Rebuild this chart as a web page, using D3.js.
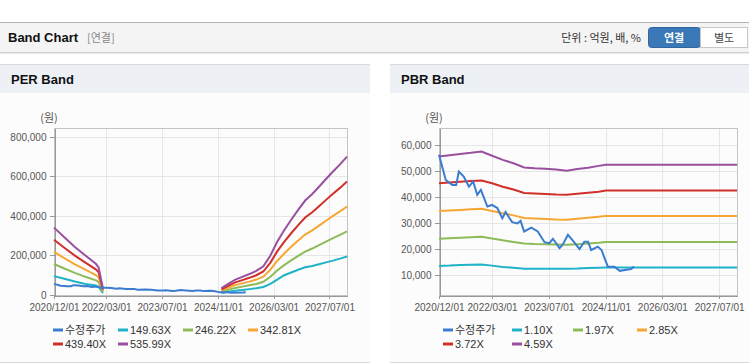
<!DOCTYPE html>
<meta charset="utf-8">
<style>
    body {
        margin: 0;
        background-color: #fff;
    }

    svg text {
        font-family: "Liberation Sans", Arial, "Noto Sans CJK KR", sans-serif;
    }

    .kr {
        font-family: "Noto Sans CJK KR", sans-serif !important;
    }

    .axis text {
        font-size: 10px;
        fill: #555;
    }

    .axis path,
    .axis line {
        stroke: #999;
        shape-rendering: crispEdges;
    }

    .grid line {
        stroke: #e6e6e6;
        shape-rendering: crispEdges;
    }

    .grid path {
        display: none;
    }

    .line {
        fill: none;
        stroke-width: 2px;
    }
</style>

<body>
    <svg width="749" height="364"></svg>
</body>
<script src="https://d3js.org/d3.v7.min.js"></script>
<script>
    // ---- data ----
    var xTicks = ["2020/12/01", "2022/03/01", "2023/07/01", "2024/11/01", "2026/03/01", "2027/07/01"];

    var priceDates = ["2020-12-01", "2021-01-28", "2021-03-25", "2021-04-28", "2021-05-20", "2021-07-01",
        "2021-08-15", "2021-09-20", "2021-10-25", "2021-11-25", "2022-01-20", "2022-03-01", "2022-04-15",
        "2022-05-28", "2022-06-25", "2022-08-20", "2022-10-05", "2022-11-01", "2022-12-01", "2023-02-01",
        "2023-03-28", "2023-05-25", "2023-07-05", "2023-08-05", "2023-10-01", "2023-10-28", "2023-12-12",
        "2024-01-25", "2024-03-20", "2024-05-01", "2024-06-01", "2024-06-28", "2024-08-25", "2024-09-25",
        "2024-11-18", "2025-01-15", "2025-02-28", "2025-06-05", "2025-07-01"];
    var priceValues = [56300, 46600, 44700, 44700, 49800, 47900,
        44000, 46000, 40900, 42800, 36400, 37000, 35800,
        31900, 34300, 30400, 29900, 30900, 26800, 28300,
        26800, 22700, 22300, 24000, 20400, 21700, 25500,
        23200, 20100, 22900, 22900, 19700, 21000, 19700,
        13300, 13300, 11700, 12400, 13300];

    // PER band (null = no band drawn)
    var perDates = ["2020-12-01", "2021-03-01", "2021-06-01", "2021-09-01", "2021-12-01", "2021-12-25", "2022-02-01",
        "2023-06-01",
        "2024-12-01", "2025-02-01", "2025-04-01", "2025-06-01", "2025-08-01", "2025-10-01", "2025-12-01",
        "2026-02-01", "2026-04-01", "2026-06-01", "2026-08-01", "2026-10-01", "2026-12-01", "2027-02-01",
        "2027-04-01", "2027-06-01", "2027-08-01", "2027-10-01", "2027-12-01"];
    var per14963 = [95500, 81800, 68000, 56000, 48000, 42000, 9200, null,
        9800, 16200, 21800, 25800, 29700, 34200, 40600, 56000, 78000, 100000, 114000, 128000, 140000,
        147000, 156000, 165000, 174000, 184000, 195000];
    var per24622 = [156900, 134300, 111800, 92000, 74000, 66000, 15200, null,
        16100, 26700, 35900, 42300, 48800, 56100, 66700, 92000, 123700, 150900, 175300, 198300, 219900,
        235100, 252100, 270000, 287500, 304100, 322000];
    var per34281 = [218200, 186900, 155500, 128000, 101100, 89600, 21100, null,
        22400, 37100, 49900, 58900, 67800, 78100, 92800, 128000, 172200, 209900, 243800, 275800, 305900,
        327000, 350700, 375700, 400000, 423000, 448000];
    var per43940 = [279600, 239400, 199300, 164000, 129600, 114800, 27100, null,
        28700, 47600, 64000, 75400, 86900, 100000, 118900, 164000, 220600, 269000, 312400, 353400, 392000,
        419000, 449400, 481300, 512500, 542000, 574000];
    var per53599 = [341000, 292000, 243000, 200000, 158000, 140000, 33000, null,
        35000, 58000, 78000, 92000, 106000, 122000, 145000, 200000, 269000, 328000, 381000, 431000, 478000,
        511000, 548000, 587000, 625000, 661000, 700000];
    var perYTicks = [0, 200000, 400000, 600000, 800000];

    // PBR band
    var pbrDates = ["2020-12-01", "2021-03-01", "2021-06-01", "2021-09-01", "2021-12-01", "2022-03-01",
        "2022-06-01", "2022-09-01", "2022-12-01", "2023-03-01", "2023-06-01", "2023-09-01", "2023-12-01",
        "2024-03-01", "2024-06-01", "2024-09-01", "2024-11-01", "2027-12-01"];
    var pbr110 = [13600, 13700, 13900, 14000, 14100, 13700, 13200, 12900, 12500, 12500, 12500, 12500, 12500,
        12600, 12800, 12900, 13000, 13000];
    var pbr197 = [24000, 24200, 24400, 24600, 24800, 24100, 23400, 22800, 22200, 22000, 21900, 21800, 21700,
        21900, 22200, 22500, 22800, 22800];
    var pbr285 = [34700, 34900, 35100, 35300, 35500, 34700, 33800, 33000, 32000, 31800, 31600, 31400, 31300,
        31700, 32100, 32500, 32800, 32800];
    var pbr372 = [45300, 45600, 45900, 46200, 46400, 45300, 44000, 42900, 41600, 41400, 41200, 41000, 40900,
        41300, 41700, 42100, 42500, 42500];
    var pbr459 = [55600, 56100, 56600, 57000, 57500, 55900, 54300, 53000, 51400, 51100, 50900, 50600, 50100,
        50800, 51300, 52000, 52400, 52400];
    var pbrYTicks = [10000, 20000, 30000, 40000, 50000, 60000];

    var perNames = ["수정주가", "149.63X", "246.22X", "342.81X", "439.40X", "535.99X"];
    var pbrNames = ["수정주가", "1.10X", "1.97X", "2.85X", "3.72X", "4.59X"];
    var colors = ["#3b7cd0", "#1fb2c8", "#8dbb58", "#f6a733", "#d03029", "#99509f"];

    // ---- drawing ----
    var svg = d3.select("svg");
    var parseDate = d3.timeParse("%Y-%m-%d");
    var parseTick = d3.timeParse("%Y/%m/%d");
    var fmtTick = d3.timeFormat("%Y/%m/%d");

    // top header bar
    svg.append("rect").attr("x", 0).attr("y", 22).attr("width", 749).attr("height", 31).attr("fill", "#f4f4f4");
    svg.append("line").attr("x1", 0).attr("x2", 749).attr("y1", 22.5).attr("y2", 22.5).attr("stroke", "#b4b4b4");
    svg.append("line").attr("x1", 0).attr("x2", 749).attr("y1", 52.5).attr("y2", 52.5).attr("stroke", "#cfcfcf");
    svg.append("line").attr("x1", 0).attr("x2", 749).attr("y1", 53.5).attr("y2", 53.5).attr("stroke", "#ececec");
    svg.append("text").attr("x", 8).attr("y", 42).style("font-size", "13px").style("font-weight", "bold")
        .attr("fill", "#111").text("Band Chart");
    svg.append("text").attr("class", "kr").attr("x", 87).attr("y", 42).style("font-size", "11px")
        .attr("fill", "#888").text("[연결]");
    svg.append("text").attr("class", "kr").attr("x", 641).attr("y", 42).attr("text-anchor", "end")
        .style("font-size", "11px").attr("fill", "#333").text("단위 : 억원, 배, %");
    svg.append("rect").attr("x", 648.5).attr("y", 27.5).attr("width", 52).attr("height", 20).attr("rx", 3)
        .attr("fill", "#3a78b8").attr("stroke", "#2f66a0");
    svg.append("rect").attr("x", 700.5).attr("y", 27.5).attr("width", 47).attr("height", 20)
        .attr("fill", "#fff").attr("stroke", "#c8c8c8");
    svg.append("text").attr("class", "kr").attr("x", 674).attr("y", 42).attr("text-anchor", "middle")
        .style("font-size", "11px").style("font-weight", "bold").attr("fill", "#fff").text("연결");
    svg.append("text").attr("class", "kr").attr("x", 724).attr("y", 42).attr("text-anchor", "middle")
        .style("font-size", "11px").attr("fill", "#444").text("별도");

    function drawPanel(p) {
        // panel frame
        svg.append("rect").attr("x", p.px0).attr("y", 93).attr("width", p.px1 - p.px0).attr("height", 269)
            .attr("fill", "#fcfcfc");
        svg.append("rect").attr("x", p.px0).attr("y", 64).attr("width", p.px1 - p.px0).attr("height", 29)
            .attr("fill", "#edf1f6");
        svg.append("line").attr("x1", p.px0).attr("x2", p.px1).attr("y1", 64.5).attr("y2", 64.5).attr("stroke", "#d9d9d9");
        svg.append("line").attr("x1", p.px0).attr("x2", p.px1).attr("y1", 362.5).attr("y2", 362.5).attr("stroke", "#d9d9d9");
        svg.append("text").attr("x", p.px0 + 11).attr("y", 84).style("font-size", "13px").style("font-weight", "bold")
            .attr("fill", "#111").text(p.title);
        svg.append("text").attr("class", "kr").attr("x", p.unitX).attr("y", 122).attr("text-anchor", "middle")
            .style("font-size", "11px").attr("fill", "#555").text("(원)");

        var x = d3.scaleTime().domain([new Date(2020, 11, 1), new Date(2027, 11, 1)]).range([p.left, p.right]);
        var y = d3.scaleLinear().domain(p.yDomain).range([295, 128]);
        var ticks = xTicks.map(parseTick);

        // grid
        svg.append("g").attr("class", "grid")
            .attr("transform", "translate(" + p.left + ",0)")
            .call(d3.axisLeft(y).tickValues(p.yTicks).tickSize(-(p.right - p.left)).tickFormat(""));
        svg.append("g").attr("class", "grid")
            .attr("transform", "translate(0,128)")
            .call(d3.axisBottom(x).tickValues(ticks).tickSize(167).tickFormat(""));
        svg.append("rect").attr("x", p.left + 0.5).attr("y", 128.5).attr("width", p.right - p.left)
            .attr("height", 167).attr("fill", "none").attr("stroke", "#c4c4c4");

        // axes
        svg.append("g").attr("class", "axis")
            .attr("transform", "translate(" + (p.left + 0.5) + ",0)")
            .call(d3.axisLeft(y).tickValues(p.yTicks).tickSize(5).tickSizeOuter(0).tickPadding(3)
                .tickFormat(d3.format(",")));
        var gx = svg.append("g").attr("class", "axis")
            .attr("transform", "translate(0,295.5)")
            .call(d3.axisBottom(x).tickValues(ticks).tickSize(3).tickSizeOuter(0).tickFormat(fmtTick));
        gx.selectAll("text").attr("y", 8);

        // lines
        var g = svg.append("g");
        p.series.forEach(function(s, i) {
            var pts = s.dates.map(function(d, j) {
                return { date: parseDate(d), value: s.values[j] };
            });
            var line = d3.line()
                .defined(function(d) { return d.value != null; })
                .x(function(d) { return x(d.date); })
                .y(function(d) { return y(d.value); });
            g.append("path").datum(pts).attr("class", "line")
                .attr("stroke", colors[s.c]).attr("d", line);
        });

        // legend
        p.names.forEach(function(n, i) {
            var lx = p.legendX[i % 4], ly = i < 4 ? 330 : 344;
            svg.append("line").attr("x1", lx).attr("x2", lx + 10).attr("y1", ly).attr("y2", ly)
                .attr("stroke", colors[i]).attr("stroke-width", 3);
            svg.append("text").attr("class", i == 0 ? "kr" : null).attr("x", lx + 12).attr("y", ly + 4)
                .style("font-size", "11px").attr("fill", "#333").text(n);
        });
    }

    drawPanel({
        title: "PER Band", px0: 0, px1: 370, unitX: 49,
        left: 54, right: 347, yDomain: [0, 845000], yTicks: perYTicks,
        names: perNames, legendX: [53, 118, 183, 248],
        series: [
            { dates: perDates, values: per14963, c: 1 },
            { dates: perDates, values: per24622, c: 2 },
            { dates: perDates, values: per34281, c: 3 },
            { dates: perDates, values: per43940, c: 4 },
            { dates: perDates, values: per53599, c: 5 },
            { dates: priceDates, values: priceValues, c: 0 }
        ]
    });

    drawPanel({
        title: "PBR Band", px0: 390, px1: 749, unitX: 434,
        left: 439, right: 737, yDomain: [2420, 66540], yTicks: pbrYTicks,
        names: pbrNames, legendX: [443, 512, 573, 637],
        series: [
            { dates: pbrDates, values: pbr110, c: 1 },
            { dates: pbrDates, values: pbr197, c: 2 },
            { dates: pbrDates, values: pbr285, c: 3 },
            { dates: pbrDates, values: pbr372, c: 4 },
            { dates: pbrDates, values: pbr459, c: 5 },
            { dates: priceDates, values: priceValues, c: 0 }
        ]
    });
</script>
